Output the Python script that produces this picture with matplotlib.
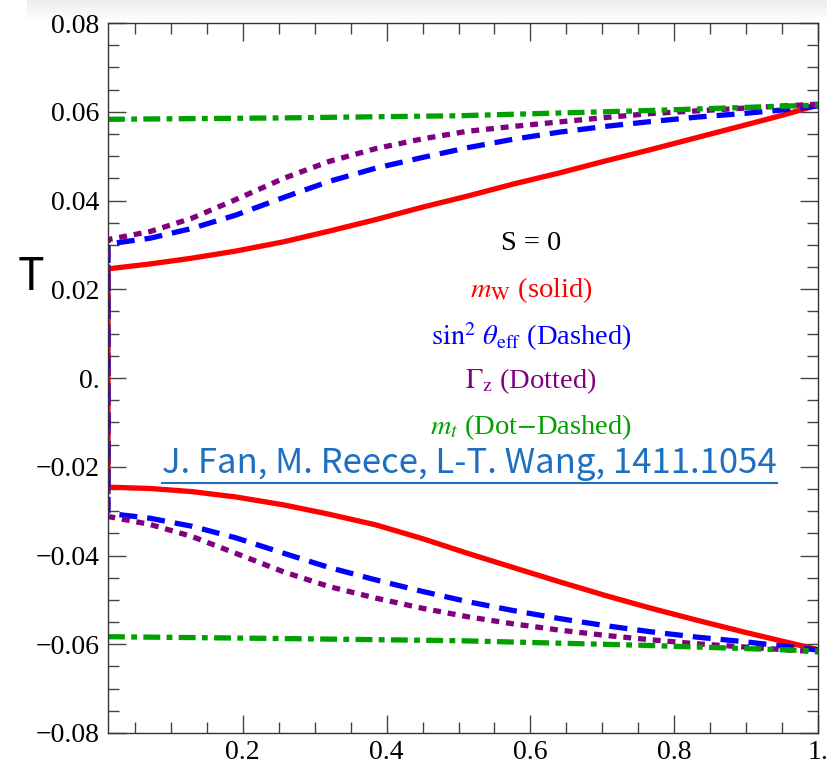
import numpy as np
import matplotlib.pyplot as plt
from matplotlib.lines import Line2D

# data
x_pts = [0.0125, 0.071, 0.129, 0.19, 0.257, 0.32, 0.385, 0.45, 0.5125,
         0.576, 0.64, 0.704, 0.768, 0.832, 0.896, 0.95, 1.0]

mw_top = [0.0246, 0.0257, 0.0270, 0.0286, 0.0307, 0.0331, 0.0357, 0.0385, 0.0410,
          0.0437, 0.0462, 0.0489, 0.0515, 0.0542, 0.0569, 0.0592, 0.0615]
mw_bot = [-0.0246, -0.0249, -0.0256, -0.0268, -0.0286, -0.0307, -0.0331, -0.0362, -0.0395,
          -0.0427, -0.0459, -0.0490, -0.0519, -0.0546, -0.0572, -0.0593, -0.0612]

sin_top = [0.0302, 0.0315, 0.0337, 0.0367, 0.0407, 0.0443, 0.0473, 0.0497, 0.0519,
           0.0538, 0.0554, 0.0567, 0.0578, 0.0588, 0.0596, 0.0604, 0.0613]
sin_bot = [-0.0305, -0.0316, -0.0334, -0.0360, -0.0395, -0.0427, -0.0455, -0.0481, -0.0504,
           -0.0524, -0.0542, -0.0558, -0.0572, -0.0584, -0.0594, -0.0604, -0.0613]

gz_top = [0.0312, 0.0330, 0.0360, 0.0402, 0.0450, 0.0488, 0.0517, 0.0539, 0.0556,
          0.0567, 0.0577, 0.0587, 0.0596, 0.0602, 0.0608, 0.0613, 0.0617]
gz_bot = [-0.0312, -0.0330, -0.0357, -0.0395, -0.0437, -0.0470, -0.0496, -0.0519, -0.0538,
          -0.0554, -0.0568, -0.0580, -0.0590, -0.0599, -0.0606, -0.0612, -0.0617]

x_mt = [0.0125, 0.25, 0.5, 0.75, 1.0]
mt_top = [0.0583, 0.0586, 0.0591, 0.0602, 0.0615]
mt_bot = [-0.0583, -0.0587, -0.0592, -0.0602, -0.0615]

x_ticks = [0.2, 0.4, 0.6, 0.8, 1.0]
x_labels = ['0.2', '0.4', '0.6', '0.8', '1.']
y_ticks = [-0.08, -0.06, -0.04, -0.02, 0.0, 0.02, 0.04, 0.06, 0.08]
y_labels = ['\u22120.08', '\u22120.06', '\u22120.04', '\u22120.02', '0.', '0.02', '0.04', '0.06', '0.08']

plt.rcParams['font.family'] = ['Liberation Serif', 'DejaVu Serif']
plt.rcParams['mathtext.fontset'] = 'stix'

W, H = 827, 764
fig = plt.figure(figsize=(W / 100, H / 100), dpi=100)

# faint shadow band at the top of the screenshot
gax = fig.add_axes([27 / W, 1 - 22 / H, 1 - 27 / W, 22 / H])
grad = np.linspace(0.93, 1.0, 50).reshape(-1, 1)
gax.imshow(grad, aspect='auto', cmap='gray', vmin=0, vmax=1)
gax.axis('off')

ax = fig.add_axes([108 / W, 1 - 733 / H, (818 - 108) / W, (733 - 23) / H])


def closed(top, bot):
    # top branch backwards, then down the left edge, then bottom branch
    xs = list(x_pts[::-1]) + list(x_pts)
    ys = list(top[::-1]) + list(bot)
    return xs, ys


lw = 3.8
xs, ys = closed(mw_top, mw_bot)
ax.plot(xs, ys, color='#ff0000', lw=lw, solid_capstyle='butt', solid_joinstyle='round')
xs, ys = closed(sin_top, sin_bot)
ax.plot(xs, ys, color='#0000ff', lw=lw, dashes=(3.4, 1.9))
xs, ys = closed(gz_top, gz_bot)
ax.plot(xs, ys, color='#800080', lw=lw, dashes=(1.5, 1.3))
for yy in (mt_top, mt_bot):
    ax.plot(x_mt, yy, color='#00a000', lw=lw, dashes=(3.2, 1.2, 1.1, 1.2))

ax.set_xlim(0.0125, 1.0)
ax.set_ylim(-0.08, 0.08)
ax.set_xticks(x_ticks)
ax.set_xticklabels(x_labels)
ax.set_yticks(y_ticks)
ax.set_yticklabels(y_labels)
ax.set_xticks(np.arange(0.05, 1.0, 0.05), minor=True)
ax.set_yticks(np.arange(-0.08, 0.0801, 0.005), minor=True)
ax.tick_params(which='both', direction='in', top=True, right=True,
               color='#444444', width=1.0, labelsize=20)
ax.tick_params(which='major', length=13, pad=6)
ax.tick_params(which='minor', length=8)
ax.tick_params(axis='x', pad=5)
for sp in ax.spines.values():
    sp.set_color('#333333')
    sp.set_linewidth(1.0)

# axis label
fig.text(31 / W, 1 - 277 / H, 'T', family=['Noto Sans CJK SC', 'DejaVu Sans'],
         fontsize=32, fontweight='light', ha='center', va='center', color='black')

# annotation lines
cx = 531 / W
notes = [('S = 0', 243, 'black'),
         (r'$m_{\mathrm{W}}$ (solid)', 290, '#ff0000'),
         (r'$\sin^2\,\theta_{\mathrm{eff}}$ (Dashed)', 337, '#0000ff'),
         (r'$\Gamma_{\mathrm{z}}$ (Dotted)', 381, '#800080'),
         (r'$m_t$ (Dot$-$Dashed)', 427, '#00a000')]
for s, py, c in notes:
    fig.text(cx, 1 - py / H, s, fontsize=20.5, ha='center', va='center', color=c)

# citation with underline
link_color = '#1e6fc0'
ref = fig.text(162 / W, 1 - 463 / H, 'J. Fan, M. Reece, L-T. Wang, 1411.1054',
               family=['Noto Sans CJK SC', 'DejaVu Sans'], fontsize=25,
               fontweight='light', ha='left', va='center', color=link_color)
fig.canvas.draw()
bb = ref.get_window_extent()
uy = 1 - 483 / H
fig.add_artist(Line2D([bb.x0 / W, bb.x1 / W], [uy, uy], color=link_color, lw=1.5))

fig.savefig('out.png', dpi=100)
